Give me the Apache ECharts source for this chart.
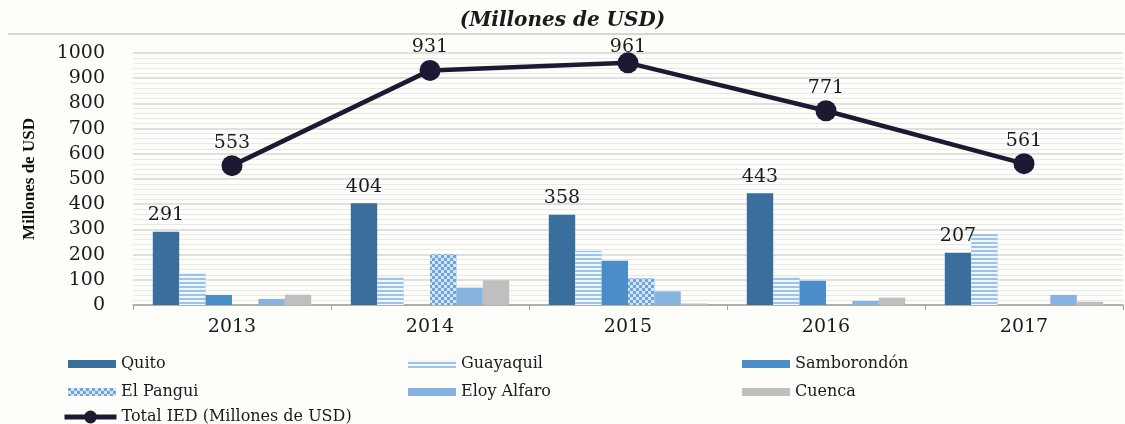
<!DOCTYPE html>
<html><head><meta charset="utf-8">
<script src="https://cdn.jsdelivr.net/npm/echarts@6/dist/echarts.min.js"></script>
<style>html,body{margin:0;padding:0;background:#fdfdfa}#c{width:1125px;height:424px}</style>
</head><body><div id="c"></div>
<script>
const years = ['2013','2014','2015','2016','2017'];
const quito = [291, 404, 358, 443, 207];
const guayaquil = [126, 112, 215, 112, 282];
const samborondon = [40, 0, 176, 96, 0];
const elPangui = [0, 201, 106, 0, 0];
const eloyAlfaro = [24, 69, 54, 16, 40];
const cuenca = [41, 98, 6, 29, 13];
const totalIED = [553, 931, 961, 771, 561];
const yTicks = [0, 1000, 100];

const serif = 'DejaVu Serif';
const chart = echarts.init(document.getElementById('c'), null, {renderer:'canvas'});

const barBase = {type:'bar', barGap:'0%', barCategoryGap:'20%'};
const legendText = {fontFamily:serif, fontSize:16, fontWeight:'normal', color:'#1a1a1a'};
const mkLegend = (name, left, top) => ({
  data:[name], left:left, top:top, padding:0, itemWidth:48, itemHeight:8, icon:'rect',
  textStyle:legendText, itemGap:2
});

chart.setOption({
  backgroundColor:'#fdfdfa',
  animation:false,
  title:{text:'(Millones de USD)', left:'center', top:6,
    textStyle:{fontFamily:serif, fontStyle:'italic', fontWeight:'bold', fontSize:20, color:'#1a1a1a'}},
  graphic:[{type:'line', shape:{x1:8,y1:34,x2:1125,y2:34}, style:{stroke:'#c8c8c8', lineWidth:1.5}}],
  grid:{left:133, right:2, top:53, bottom:119},
  legend:[
    mkLegend('Quito',68,356),
    mkLegend('Guayaquil',408,356),
    mkLegend('Samborondón',742,356),
    mkLegend('El Pangui',68,384),
    mkLegend('Eloy Alfaro',408,384),
    mkLegend('Cuenca',742,384),
    {data:['Total IED (Millones de USD)'], left:62, top:409, padding:0, itemWidth:52, itemHeight:16,
     lineStyle:{width:5}, textStyle:legendText, itemGap:2}
  ],
  xAxis:{type:'category', data:years,
    axisLine:{lineStyle:{color:'#a0a0a0', width:1.5}},
    axisTick:{show:true, length:5, lineStyle:{color:'#a0a0a0'}},
    axisLabel:{fontFamily:serif, fontSize:19, color:'#1a1a1a', margin:13}},
  yAxis:{type:'value', min:yTicks[0], max:yTicks[1], interval:yTicks[2],
    name:'Millones de USD', nameLocation:'middle', nameRotate:90, nameGap:95,
    nameTextStyle:{fontFamily:'Liberation Serif', fontWeight:'bold', fontSize:17, color:'#111'},
    axisLine:{show:false}, axisTick:{show:false},
    axisLabel:{fontFamily:serif, fontSize:19, color:'#1a1a1a', margin:28, formatter:v=>String(v)},
    splitLine:{lineStyle:{color:'#d6d6d6', width:1.5}},
    minorTick:{show:false, splitNumber:5},
    minorSplitLine:{show:true, lineStyle:{color:'#e8e8e8', width:1}}},
  series:[
    Object.assign({}, barBase, {name:'Quito', data:quito, itemStyle:{color:'#3a6e9c'},
      label:{show:true, position:'top', distance:7, fontFamily:serif, fontSize:19, color:'#1a1a1a'}}),
    Object.assign({}, barBase, {name:'Guayaquil', data:guayaquil,
      itemStyle:{color:'#9cc3e9', decal:{symbol:'rect', symbolSize:1, dashArrayX:[1,0], dashArrayY:[1.5,1.5], color:'rgba(255,255,255,0.85)', rotation:0}}}),
    Object.assign({}, barBase, {name:'Samborondón', data:samborondon, itemStyle:{color:'#4a8dc8'}}),
    Object.assign({}, barBase, {name:'El Pangui', data:elPangui,
      itemStyle:{color:'#6ea6dc', decal:{symbol:'rect', symbolSize:1, dashArrayX:[[3,3],[0,3,3,0]], dashArrayY:[3,0], color:'rgba(255,255,255,0.7)', rotation:0}}}),
    Object.assign({}, barBase, {name:'Eloy Alfaro', data:eloyAlfaro, itemStyle:{color:'#86b3df'}}),
    Object.assign({}, barBase, {name:'Cuenca', data:cuenca, itemStyle:{color:'#bfbfbf'}}),
    {type:'line', name:'Total IED (Millones de USD)',
      data:totalIED.map((v,i)=> i===2 ? {value:v, label:{distance:-4}} : v),
      symbol:'circle', symbolSize:21,
      lineStyle:{color:'#1c1a33', width:4.5}, itemStyle:{color:'#1c1a33'},
      label:{show:true, position:'top', distance:3, fontFamily:serif, fontSize:19, color:'#1a1a1a'}, z:5}
  ]
});
</script></body></html>
